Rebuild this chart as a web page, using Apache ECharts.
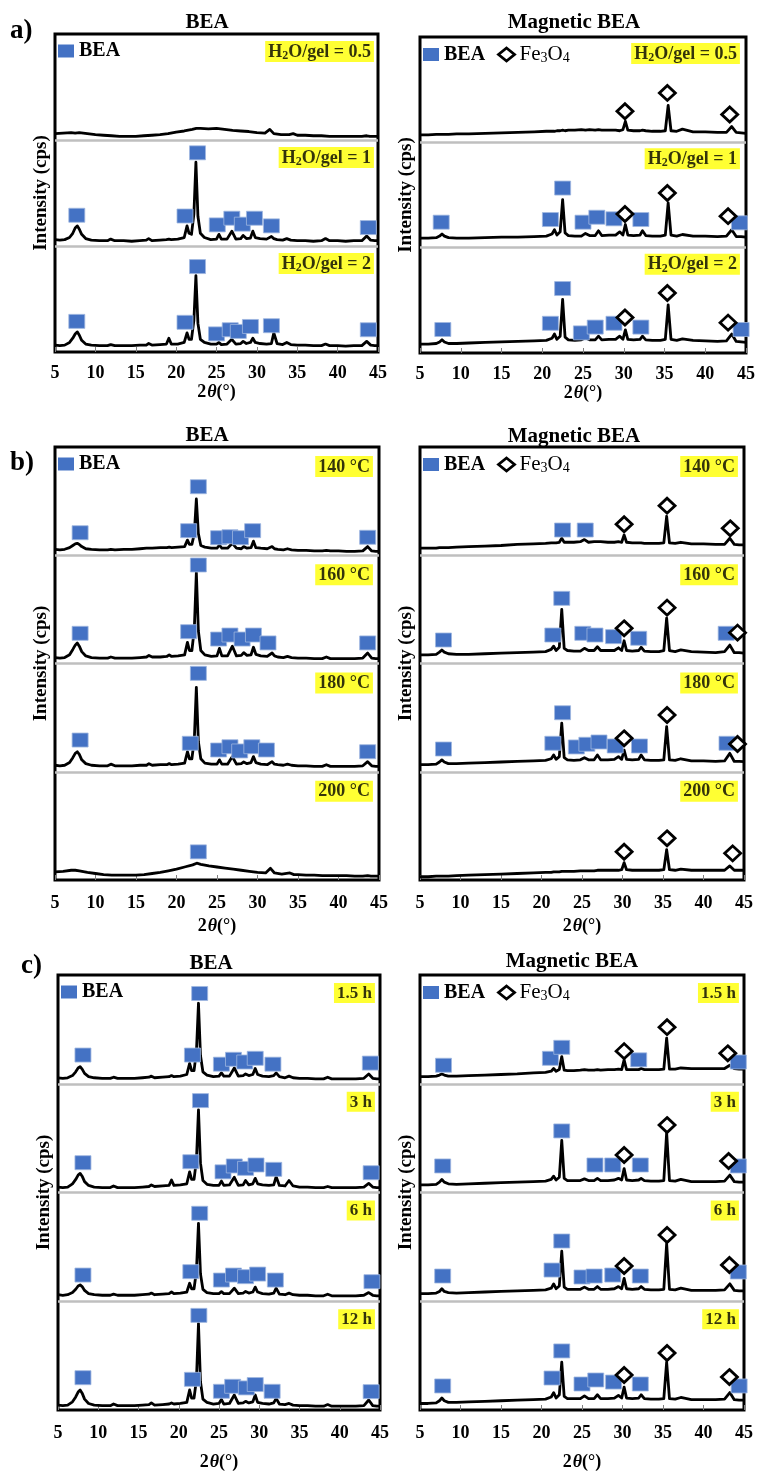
<!DOCTYPE html>
<html>
<head>
<meta charset="utf-8">
<title>XRD BEA / Magnetic BEA</title>
<script src="https://cdn.jsdelivr.net/npm/echarts@6/dist/echarts.min.js"></script>
<style>
html,body{margin:0;padding:0;background:#fff;}
#chart{width:758px;height:1473px;}
</style>
</head>
<body>
<div id="chart"></div>
<script>
// 2theta sampling used for the traces
const thetaBea = [5, 5.6, 6.2, 6.8, 7.2, 7.5, 7.75, 8.0, 8.3, 8.8,
  9.5, 10.5, 11.5, 11.9, 12.4, 13.5, 14.5, 15.5, 16.3, 16.6,
  17.0, 18.0, 18.8, 19.1, 19.4, 20.2, 21.0, 21.35, 21.6, 21.9,
  22.2, 22.45, 22.7, 23.0, 23.5, 24.3, 25.0, 25.3, 25.6, 26.3,
  26.9, 27.4, 28.0, 28.3, 28.7, 29.2, 29.5, 29.8, 30.4, 31.2,
  31.8, 32.1, 32.5, 33.2, 33.7, 34.2, 35.0, 36.0, 37.0, 38.0,
  38.5, 39.0, 40.0, 41.0, 42.0, 43.0, 43.6, 44.1, 44.6, 45.0];
const thetaAmo = [5, 6, 7, 7.5, 8, 9, 10, 11, 12, 13,
  14, 15, 16, 17, 18, 19, 20, 21, 22, 22.5,
  23, 24, 25, 26, 27, 28, 29, 30, 31, 31.6,
  32.1, 33, 34, 34.5, 35, 36, 37, 38, 39, 40,
  41, 42, 43, 43.6, 44, 45];
const thetaMag = [5, 6, 7, 7.4, 7.7, 8.0, 8.5, 9.5, 11, 13,
  15, 17, 19, 20.5, 21.2, 21.5, 21.8, 22.2, 22.5, 22.8,
  23.2, 24, 24.8, 25.3, 25.8, 26.5, 26.9, 27.3, 28.2, 29.0,
  29.5, 29.9, 30.2, 30.5, 31.2, 32.0, 32.3, 32.7, 33.5, 34.5,
  35.1, 35.45, 35.8, 36.5, 37.2, 38.5, 40, 41.5, 42.6, 43.25,
  43.8, 44.4, 45];

// intensities, % of each stacked slot
const aBea05 = [6, 6.5, 7, 6.5, 7, 6, 5, 4.5, 4, 3.5,
  3.5, 3.5, 4, 4.5, 5, 6, 7.5, 8.5, 10, 11,
  11, 10.5, 11, 10, 9, 8.5, 8, 7, 6.5, 10,
  6, 5, 5, 6, 4.5, 4.5, 4, 4, 3.5, 3.5,
  3.5, 3.5, 3.5, 4, 3.5, 3.5];
const aBea1 = [6, 5.5, 6, 8, 12, 17, 19, 16, 11, 7,
  5.5, 5, 5, 6.5, 5, 5, 4.5, 5, 5.5, 7,
  5, 5.5, 6, 6.5, 6, 6.5, 8, 19, 12, 11,
  30, 79, 28, 12, 8, 6, 6.5, 11, 6.5, 6.5,
  14, 6.5, 7, 10, 7, 7.5, 14, 8, 7, 6.5,
  9, 7, 6, 5.5, 7, 5.5, 5, 5, 4.5, 5,
  7, 5, 5, 4.5, 5, 5, 9.5, 5.5, 5, 5];
const aBea2 = [6.5, 6, 6.5, 9, 13, 17, 19, 16, 11, 7.5,
  6.5, 6, 6, 7, 6, 6, 6, 6.5, 6.5, 8,
  6.5, 7, 7.5, 13, 7.5, 7.5, 9, 18, 12, 12,
  30, 72, 27, 12, 9, 7.5, 7.5, 9, 7, 7.5,
  12, 7.5, 8, 10, 8, 9, 13, 9, 8, 7.5,
  8, 18, 8, 7, 9, 7, 6.5, 6.5, 6, 6,
  7.5, 6, 6, 5.5, 6, 6, 10, 6.5, 6, 6];
const aMag05 = [7, 7, 7.5, 7.5, 7.5, 7.5, 7.5, 8, 8, 8.5,
  9, 9.5, 10, 10.5, 10.5, 10.5, 11, 11, 11.5, 11,
  11.5, 11.5, 12, 11.5, 12, 11.5, 12, 11.5, 11.5, 11.5,
  11, 12, 20, 11.5, 11, 11, 11.5, 11, 10.5, 10.5,
  11, 35, 11, 10.5, 12.5, 10, 10, 9.5, 9.5, 15,
  9.5, 9, 8.5];
const aMag1 = [9, 9, 9.5, 11, 13, 11, 9.5, 9, 9, 9.5,
  10, 10, 10.5, 11, 13, 17, 12, 15, 45.6, 14,
  11.5, 11, 11, 13.5, 11.5, 11.5, 16, 11.5, 12, 12,
  15, 12, 22, 12, 11.5, 12, 16, 11.5, 11, 11,
  12, 42.5, 12, 11, 12.5, 11, 11, 10.5, 11, 17,
  10.5, 10.5, 10];
const aMag2 = [8.5, 8.5, 9, 10.5, 12.6, 10.5, 9, 9, 9.5, 10,
  10.5, 11, 11.5, 12, 14, 18, 13, 16, 51, 15,
  12.5, 12, 12.5, 14.5, 12.5, 12.5, 16, 12.5, 13, 13,
  16, 13, 22, 13, 12.5, 13, 16, 12.5, 12, 12,
  13, 45.6, 13, 12, 13.5, 12, 11.5, 11, 11.5, 18,
  11, 10.5, 10];

const bBea140 = [5.5, 5, 5.5, 7, 9, 10.5, 11, 10, 8, 6,
  5.5, 5, 5, 5.5, 5, 5.5, 5.5, 6, 6.5, 6.5,
  6.5, 7, 7, 7.5, 7, 7.5, 8, 14, 10, 10,
  20, 52, 20, 9, 7.5, 6.5, 6.5, 9.5, 6.5, 6.5,
  11, 6.5, 6, 8, 6.5, 7, 13, 7, 6.5, 6,
  8, 6, 5.5, 5, 6, 5, 4.5, 4.5, 4, 4,
  4.5, 4, 4, 3.5, 3.5, 4, 8, 4, 3.5, 3.5];
const bBea160 = [5.5, 5, 5.5, 8, 13, 17, 19, 16, 11, 7,
  5.5, 5, 5, 6, 5, 5, 5, 5.5, 6, 7.5,
  6, 6, 6.5, 8, 6.5, 7, 8, 19.5, 12, 12,
  32, 84, 30, 12, 8, 6.5, 7, 14, 7, 7,
  16, 7, 7.5, 10, 7.5, 8, 15, 8.5, 7, 6.5,
  9.7, 7, 6, 5.5, 6.5, 5.5, 5, 5, 4.5, 4.5,
  6, 4.5, 4.5, 4.5, 4.5, 5, 9.7, 5, 4.5, 4.5];
const bBea180 = [6, 5.5, 6, 8.5, 13, 17, 18.5, 16, 11, 7.5,
  6, 5.5, 5.5, 7, 5.5, 5.5, 5.5, 6, 6, 7.5,
  6, 6.5, 6.5, 7.5, 6.5, 7, 8, 18.5, 12, 12,
  30, 78, 28, 12, 8, 7, 7, 11, 7, 7,
  14, 7, 7.5, 9, 7.5, 8.5, 14, 8.5, 7, 6.5,
  9.3, 7, 6.5, 6, 7, 6, 5.5, 5.5, 5, 5,
  6.5, 5, 5, 5, 5, 5.5, 9.3, 5.5, 5, 5];
const bBea200 = [7.5, 8, 9, 9, 8.5, 7, 6, 5, 4.5, 4.5,
  4.5, 4.5, 5, 6, 7, 8.5, 10, 12, 14, 15.5,
  14.5, 13, 12, 11, 10, 9, 8, 7, 6.5, 10.8,
  6.5, 5.5, 6.5, 5, 5, 4.5, 4.5, 4, 4, 4,
  4, 3.5, 3.5, 4, 3.5, 3.5];
const bMag140 = [6.5, 6.5, 6.5, 7, 7, 7, 7, 7.5, 8, 8.5,
  9, 10, 10.5, 11, 11.5, 11.5, 11.5, 12, 15.7, 12,
  12, 12, 12.5, 14.5, 12, 12.5, 12.5, 12.5, 12, 12,
  12.5, 12, 18.7, 12, 11.5, 11.5, 11.5, 11, 11, 11,
  11.5, 36, 11.5, 11, 12, 10.5, 10.5, 10, 10, 15.7,
  10, 9.5, 9.5];
const bMag160 = [8, 8, 8.5, 10.5, 12.5, 10.5, 9, 8.5, 8.5, 9,
  9.5, 10, 10.5, 11, 13, 16, 12, 15, 50, 14,
  12, 11.5, 11.5, 14, 12, 12, 15.5, 12, 12, 12,
  14.5, 12, 21, 12, 11.5, 12, 15, 11.5, 11, 11,
  12, 42, 12, 11, 12.5, 11, 10.5, 10, 11, 17,
  10, 10, 9.5];
const bMag180 = [6.5, 6.5, 7, 9, 11, 9, 7.5, 7.5, 8, 8.5,
  9, 9.5, 10, 10.5, 12, 15.5, 11.5, 14, 45, 13,
  11, 10.5, 11, 13, 11, 11, 15.5, 11, 11, 11.5,
  14, 11.5, 20, 11.5, 11, 11.5, 15.5, 11, 10.5, 10.5,
  11, 41.6, 11, 10.5, 12, 10, 10, 9.5, 10, 17,
  9.5, 9.5, 9.3];
const bMag200 = [3, 3, 3.5, 3.5, 3.5, 3.5, 3.5, 4, 4.5, 5,
  5.5, 6, 6.5, 7, 7, 7.5, 7.5, 7.5, 8, 8,
  8, 8, 8.5, 8.5, 8.5, 8.5, 9, 9, 9, 9,
  9, 9.5, 16, 9.5, 9, 9, 9, 9, 9, 9,
  9.5, 28, 9.5, 9, 10, 9, 9, 9, 9, 13,
  9, 9, 9];

const cBea15 = [5.5, 5, 5.5, 7.5, 11, 14.5, 15.7, 13.5, 9.5, 6.5,
  5.5, 5, 5, 6, 5, 5, 5, 5.5, 6, 7,
  5.5, 6, 6.5, 7.5, 6.5, 7, 8.5, 18.8, 12, 12,
  30, 74, 26, 11, 8, 6.5, 7, 10, 7, 7,
  14.5, 7, 7.5, 9, 7.5, 8.5, 14, 8.5, 7, 6.5,
  7.5, 10, 6.5, 5.5, 7, 5.5, 5, 5, 4.5, 4.5,
  6, 4.5, 4.5, 4.5, 4.5, 5, 9, 5, 4.5, 4.5];
const cBea3 = [5, 4.5, 5, 8, 12, 16, 17.6, 15, 10, 6.5,
  5, 4.5, 4.5, 6, 4.5, 4.5, 4.5, 5, 5.5, 7,
  5.5, 6, 6.5, 11.5, 6.5, 7, 8, 19, 12, 12,
  30, 76, 27, 11, 7.5, 6.5, 6.5, 10.5, 6.5, 7,
  14, 6.5, 7, 11, 7, 8, 13, 8, 7, 6.5,
  7, 14.6, 6.5, 6, 11, 6, 5, 5, 4.5, 4.5,
  5.5, 4.5, 4.5, 4.5, 4.5, 5, 8.4, 5, 4.5, 4.5];
const cBea6 = [6, 5.5, 6, 8, 11, 14, 15, 13.5, 10, 7,
  6, 5.5, 5.5, 6.5, 5.5, 5.5, 5.5, 6, 6.5, 7.5,
  6, 6.5, 7, 8.5, 7, 7.5, 8.5, 16.5, 11.5, 11.5,
  28, 71.6, 25, 11, 8, 7, 7, 8.8, 7, 7,
  12, 7, 7.5, 9, 7.5, 8.5, 13, 8.5, 7, 6.5,
  7.5, 12, 6.5, 6, 7.5, 6, 5.5, 5.5, 5, 5,
  6.5, 5, 5, 5, 5, 5.5, 8, 5.5, 5, 5];
const cBea12 = [4.5, 4, 4.5, 7.5, 12, 16.5, 18.4, 15.5, 10, 6,
  4.5, 4, 4, 5.5, 4, 4, 4, 4.5, 5, 6.5,
  4.5, 5, 5.5, 6.5, 5.5, 6, 7, 18.4, 11, 11,
  28, 79.6, 26, 10, 7, 5.5, 6, 9.8, 5.5, 6,
  13.8, 6, 6.5, 8, 6.5, 7.5, 13.8, 7, 6, 5.5,
  6.5, 10.7, 5.5, 5, 6, 4.5, 4, 4, 3.5, 3.5,
  5, 3.5, 3.5, 3.5, 3.5, 4, 9.2, 4, 3.5, 3.5];
const cMag15 = [6.5, 6.5, 7, 8, 9, 8, 7, 7, 7.5, 8,
  8.5, 9, 10, 10.5, 11.5, 14, 11.5, 13, 25, 12.5,
  12, 12, 12.5, 13, 12.5, 12.5, 13, 12.5, 13, 13,
  13.5, 13, 22, 13, 13, 13, 14, 13, 13, 13,
  13.5, 42, 13.5, 13.5, 14.5, 14, 14, 14, 14, 17,
  14, 13.5, 13.5];
const cMag3 = [7, 7, 7.5, 9.5, 12, 9.5, 8, 7.5, 8, 8.5,
  9, 9.5, 10, 10.5, 12, 15, 11.5, 14, 48, 13,
  11, 11, 11, 12.5, 11, 11, 13, 11, 11, 11.5,
  13, 11.5, 22, 11.5, 11, 11.5, 13, 11, 10.5, 10.5,
  11, 55, 11, 10.5, 12, 10, 10, 10, 10.5, 16,
  10, 9.5, 9.5];
const cMag6 = [7, 7, 7.5, 9, 11.5, 9, 8, 7.5, 8, 8.5,
  9, 9.5, 10, 10.5, 12, 16, 11.5, 14, 46, 13,
  11, 11, 11, 13, 11, 11, 13.5, 11, 11, 11.5,
  13.5, 11.5, 21, 11.5, 11, 11.5, 13.5, 11, 10.5, 10.5,
  11, 53, 11, 10.5, 12, 10, 10, 10, 10.5, 16,
  10, 9.5, 9.5];
const cMag12 = [6, 6, 6.5, 8.5, 11, 8.5, 7, 7, 7.5, 8,
  8.5, 9, 9.5, 10, 12, 16, 11, 14, 44, 12.5,
  10.5, 10.5, 10.5, 13, 10.5, 10.5, 14, 10.5, 10.5, 11,
  13.5, 11, 21, 11, 10.5, 11, 14, 10.5, 10, 10,
  10.5, 44, 10.5, 10, 11.5, 9.5, 9.5, 9.5, 10, 16,
  9.5, 9, 9];

// phase markers [2theta, height %] : squares = BEA, diamonds = Fe3O4
const aBea1Sq = [[7.7, 29], [21.1, 28.3], [22.65, 87.9], [25.1, 19.9], [26.9, 26.2], [28.2, 20.6], [29.7, 26.2], [31.8, 19], [43.8, 17.4]];
const aBea2Sq = [[7.7, 28.9], [21.1, 28], [22.65, 80.6], [25.0, 17.1], [26.7, 21], [27.7, 19.4], [29.2, 24.1], [31.8, 24.8], [43.8, 21]];
const aMag05Dm = [[30.15, 29.5], [35.35, 46.9], [43.0, 26.4]];
const aMag1Sq = [[7.6, 24.2], [21.0, 26.7], [22.5, 56.6], [25.0, 24.2], [26.7, 28.9], [28.8, 27.4], [32.1, 26.7], [44.2, 23.6]];
const aMag1Dm = [[30.15, 32], [35.35, 51.9], [42.8, 29.9]];
const aMag2Sq = [[7.8, 22.3], [21.0, 28.2], [22.5, 61.2], [24.8, 19.1], [26.5, 24.6], [28.8, 28.2], [32.1, 24.6], [44.4, 22.3]];
const aMag2Dm = [[30.15, 33.7], [35.35, 57], [42.8, 28.8]];

const bBea140Sq = [[8.1, 20.8], [21.5, 22.7], [22.7, 63.3], [25.2, 16.2], [26.6, 17.1], [27.9, 16.2], [29.4, 22.7], [43.6, 16.6]];
const bBea160Sq = [[8.1, 27.9], [21.5, 29.4], [22.7, 91], [25.2, 22.6], [26.6, 26.3], [28.1, 22.6], [29.5, 26.3], [31.3, 19], [43.6, 19]];
const bBea180Sq = [[8.1, 29.3], [21.7, 26.3], [22.7, 90.9], [25.2, 20.1], [26.6, 23.1], [27.8, 19.2], [29.3, 23.1], [31.1, 20.1], [43.6, 18.5]];
const bBea200Sq = [[22.7, 26]];
const bMag140Sq = [[22.6, 23.3], [25.4, 23.3]];
const bMag140Dm = [[30.2, 28.6], [35.5, 45.8], [43.3, 24.9]];
const bMag160Sq = [[7.9, 21.7], [21.4, 26.3], [22.5, 60.2], [25.1, 27.9], [26.6, 26.3], [28.9, 24.8], [32.0, 23.3], [42.8, 27.9]];
const bMag160Dm = [[30.2, 32.5], [35.5, 51.6], [44.2, 28.5]];
const bMag180Sq = [[7.9, 21], [21.4, 26.3], [22.6, 54.5], [24.3, 22.9], [25.6, 25.4], [27.1, 27.5], [29.1, 23.8], [32.1, 23.8], [42.9, 26.3]];
const bMag180Dm = [[30.2, 30.9], [35.5, 52.4], [44.2, 25.6]];
const bMag200Dm = [[30.2, 26.1], [35.5, 38.5], [43.6, 24.6]];

const cBea15Sq = [[8.1, 26.4], [21.7, 26.4], [22.6, 83], [25.3, 18], [26.8, 22.5], [28.2, 20], [29.5, 23.4], [31.7, 18], [43.8, 19]];
const cBea3Sq = [[8.1, 27.4], [21.5, 28.3], [22.7, 84.5], [25.5, 19], [26.9, 24.4], [28.3, 22.2], [29.6, 25.3], [31.8, 21.3], [43.9, 18.2]];
const cBea6Sq = [[8.1, 24.1], [21.5, 27.2], [22.6, 80.9], [25.3, 19.5], [26.8, 24.1], [28.3, 22.6], [29.8, 25], [32.0, 19.5], [44.0, 18]];
const cBea12Sq = [[8.1, 29.7], [21.7, 28.2], [22.5, 87], [25.3, 17.2], [26.7, 21.8], [28.4, 20.3], [29.5, 23.4], [31.6, 17.2], [43.9, 16.9]];
const cMag15Sq = [[7.9, 17], [21.1, 23.4], [22.5, 33.5], [32.0, 22], [44.3, 20]];
const cMag15Dm = [[30.2, 30], [35.5, 52], [43.0, 28]];
const cMag3Sq = [[7.8, 24.4], [22.5, 56.6], [26.6, 25.3], [28.8, 25.3], [32.2, 25.3], [44.3, 24.4]];
const cMag3Dm = [[30.2, 34.5], [35.5, 62], [43.1, 29]];
const cMag6Sq = [[7.8, 23.2], [21.3, 28.7], [22.5, 55.4], [25.0, 22.3], [26.5, 23.2], [28.8, 24.1], [32.2, 23.2], [44.3, 26.9]];
const cMag6Dm = [[30.2, 32.4], [35.5, 60.9], [43.2, 33.3]];
const cMag12Sq = [[7.8, 22.1], [21.3, 29.4], [22.5, 54.3], [25.0, 23.9], [26.7, 27.6], [28.9, 25.7], [32.2, 23.9], [44.4, 22.1]];
const cMag12Dm = [[30.2, 32.2], [35.5, 52.4], [43.2, 30.3]];

// slot labels
const gelLabels = ['H2O/gel = 0.5', 'H2O/gel = 1', 'H2O/gel = 2'];
const tempLabels = ['140 °C', '160 °C', '180 °C', '200 °C'];
const timeLabels = ['1.5 h', '3 h', '6 h', '12 h'];
const xTicks = [5, 45, 5]; // min, max, step

const FONT = '"Liberation Serif","Times New Roman",serif';

// digits right after a letter become subscripts (H2O, Fe3O4)
function chem(s, key) {
  let out = '', buf = '';
  for (let i = 0; i < s.length; i++) {
    const c = s[i];
    if (/\d/.test(c) && i > 0 && /[A-Za-z]/.test(s[i - 1])) {
      if (buf) out += '{' + key + '|' + buf + '}';
      buf = '';
      out += '{s|' + c + '}';
    } else buf += c;
  }
  if (buf) out += '{' + key + '|' + buf + '}';
  return out;
}

const panels = [
  {grid: {left: 55, top: 34, width: 323, height: 318}, title: 'BEA', tx: 207, ty: 23, letter: 'a)', lx: 10, ly: 31,
   labels: gelLabels, fs: 18, inset: [-4, 7], margin: 12, gap: 27, mag: false,
   traces: [{t: thetaAmo, y: aBea05}, {t: thetaBea, y: aBea1, sq: aBea1Sq}, {t: thetaBea, y: aBea2, sq: aBea2Sq}]},
  {grid: {left: 420, top: 37, width: 326, height: 316}, title: 'Magnetic BEA', tx: 574, ty: 23,
   labels: gelLabels, fs: 18, inset: [-6, 6], margin: 12, gap: 27, mag: true,
   traces: [{t: thetaMag, y: aMag05, dm: aMag05Dm}, {t: thetaMag, y: aMag1, sq: aMag1Sq, dm: aMag1Dm}, {t: thetaMag, y: aMag2, sq: aMag2Sq, dm: aMag2Dm}]},
  {grid: {left: 55, top: 447, width: 324, height: 433}, title: 'BEA', tx: 207, ty: 436, letter: 'b)', lx: 10, ly: 463,
   labels: tempLabels, fs: 18, inset: [-6, 9], margin: 14, gap: 37, mag: false,
   traces: [{t: thetaBea, y: bBea140, sq: bBea140Sq}, {t: thetaBea, y: bBea160, sq: bBea160Sq}, {t: thetaBea, y: bBea180, sq: bBea180Sq}, {t: thetaAmo, y: bBea200, sq: bBea200Sq}]},
  {grid: {left: 420, top: 447, width: 324, height: 433}, title: 'Magnetic BEA', tx: 574, ty: 437,
   labels: tempLabels, fs: 18, inset: [-6, 9], margin: 14, gap: 37, mag: true,
   traces: [{t: thetaMag, y: bMag140, sq: bMag140Sq, dm: bMag140Dm}, {t: thetaMag, y: bMag160, sq: bMag160Sq, dm: bMag160Dm}, {t: thetaMag, y: bMag180, sq: bMag180Sq, dm: bMag180Dm}, {t: thetaMag, y: bMag200, dm: bMag200Dm}]},
  {grid: {left: 58, top: 975, width: 322, height: 435}, title: 'BEA', tx: 211, ty: 964, letter: 'c)', lx: 21, ly: 966,
   labels: timeLabels, fs: 17, inset: [-5, 8], margin: 14, gap: 43, mag: false,
   traces: [{t: thetaBea, y: cBea15, sq: cBea15Sq}, {t: thetaBea, y: cBea3, sq: cBea3Sq}, {t: thetaBea, y: cBea6, sq: cBea6Sq}, {t: thetaBea, y: cBea12, sq: cBea12Sq}]},
  {grid: {left: 420, top: 975, width: 324, height: 435}, title: 'Magnetic BEA', tx: 572, ty: 962,
   labels: timeLabels, fs: 17, inset: [-5, 8], margin: 14, gap: 43, mag: true,
   traces: [{t: thetaMag, y: cMag15, sq: cMag15Sq, dm: cMag15Dm}, {t: thetaMag, y: cMag3, sq: cMag3Sq, dm: cMag3Dm}, {t: thetaMag, y: cMag6, sq: cMag6Sq, dm: cMag6Dm}, {t: thetaMag, y: cMag12, sq: cMag12Sq, dm: cMag12Dm}]}
];

const option = {
  animation: false,
  backgroundColor: '#fff',
  grid: [], xAxis: [], yAxis: [], series: [], legend: [], graphic: []
};

panels.forEach(function (p, k) {
  const n = p.traces.length;
  option.grid.push(Object.assign({show: true, borderColor: '#000', borderWidth: 3, backgroundColor: 'rgba(0,0,0,0)'}, p.grid));
  option.xAxis.push({
    gridIndex: k, type: 'value', min: xTicks[0], max: xTicks[1], interval: xTicks[2],
    axisLine: {show: false},
    axisTick: {show: true, inside: true, length: 5, lineStyle: {color: '#808080', width: 1}},
    axisLabel: {margin: p.margin, fontFamily: FONT, fontSize: 18, fontWeight: 'bold', color: '#000'},
    splitLine: {show: false},
    name: '{n|2}{i|θ}{n|(°)}', nameLocation: 'middle', nameGap: p.gap,
    nameTextStyle: {rich: {
      n: {fontFamily: FONT, fontSize: 18, fontWeight: 'bold', color: '#000'},
      i: {fontFamily: FONT, fontSize: 18, fontWeight: 'bold', fontStyle: 'italic', color: '#000', padding: [0, 0, 0, 1]}
    }}
  });
  option.yAxis.push({
    gridIndex: k, type: 'value', min: 0, max: n * 100,
    axisLine: {show: false}, axisTick: {show: false}, axisLabel: {show: false}, splitLine: {show: false},
    name: 'Intensity (cps)', nameLocation: 'middle', nameGap: 4, nameRotate: 90,
    nameTextStyle: {fontFamily: FONT, fontSize: 19, fontWeight: 'bold', color: '#000'}
  });

  // gray separators between stacked slots
  const seps = [];
  for (let i = 1; i < n; i++) seps.push({yAxis: i * 100});
  option.series.push({
    type: 'line', xAxisIndex: k, yAxisIndex: k, data: [], z: 1, silent: true,
    markLine: {silent: true, symbol: ['none', 'none'], label: {show: false},
      lineStyle: {color: '#bfbfbf', width: 2.5, type: 'solid'}, data: seps}
  });

  const sq = [], dm = [], lab = [];
  p.traces.forEach(function (tr, i) {
    const off = (n - 1 - i) * 100;
    option.series.push({
      type: 'line', xAxisIndex: k, yAxisIndex: k, z: 3, silent: true,
      symbol: 'none', smooth: false,
      lineStyle: {color: '#000', width: 2.8, join: 'round'},
      data: tr.t.map(function (x, j) { return [x, tr.y[j] + off]; })
    });
    (tr.sq || []).forEach(function (d) { sq.push([d[0], d[1] + off]); });
    (tr.dm || []).forEach(function (d) { dm.push([d[0], d[1] + off]); });
    lab.push({value: [44.99, off + 99.99], name: p.labels[i]});
  });

  option.series.push({
    name: 'BEA', type: 'scatter', xAxisIndex: k, yAxisIndex: k, z: 5, silent: true,
    symbol: 'rect', symbolSize: [16, 14],
    itemStyle: {color: '#4472c4', borderColor: '#9fb6e0', borderWidth: 0.8, opacity: 1},
    data: sq
  });
  if (p.mag) {
    option.series.push({
      name: 'Fe3O4', type: 'scatter', xAxisIndex: k, yAxisIndex: k, z: 6, silent: true,
      symbol: 'diamond', symbolSize: [16, 15],
      itemStyle: {color: '#fff', borderColor: '#000', borderWidth: 2.8, opacity: 1},
      data: dm
    });
  }
  option.series.push({
    type: 'scatter', xAxisIndex: k, yAxisIndex: k, z: 7, silent: true,
    symbolSize: 0, itemStyle: {color: 'rgba(0,0,0,0)'},
    label: {
      show: true, position: p.inset, align: 'right', verticalAlign: 'top',
      backgroundColor: '#ffff00', padding: [1, 3, 0, 3],
      formatter: function (d) { return chem(d.name, 'b'); },
      rich: {
        b: {fontFamily: FONT, fontSize: p.fs, fontWeight: 'bold', color: '#000', lineHeight: p.fs + 2},
        s: {fontFamily: FONT, fontSize: 12, fontWeight: 'bold', color: '#000', lineHeight: 10, verticalAlign: 'bottom'}
      }
    },
    data: lab
  });

  // legend inside first slot
  const legData = [{name: 'BEA', icon: 'rect', itemStyle: {color: '#4472c4', borderWidth: 0}}];
  if (p.mag) legData.push({name: 'Fe3O4', icon: 'diamond', itemStyle: {color: '#fff', borderColor: '#000', borderWidth: 2.8}});
  option.legend.push({
    left: p.grid.left + 3, top: p.grid.top + 7, padding: 0, itemGap: 12,
    itemWidth: 16, itemHeight: 13, selectedMode: false, data: legData,
    formatter: function (name) { return chem(name, name === 'BEA' ? 'b' : 'n'); },
    textStyle: {
      color: '#000',
      rich: {
        b: {fontFamily: FONT, fontSize: 20, fontWeight: 'bold', color: '#000', lineHeight: 22},
        n: {fontFamily: FONT, fontSize: 21, color: '#000', lineHeight: 22},
        s: {fontFamily: FONT, fontSize: 14, color: '#000', lineHeight: 8, verticalAlign: 'bottom'}
      }
    }
  });

  option.graphic.push({type: 'text', x: p.tx, y: p.ty, silent: true,
    style: {text: p.title, fontFamily: FONT, fontSize: 21, fontWeight: 'bold', fill: '#000', align: 'center', verticalAlign: 'middle'}});
  if (p.letter) {
    option.graphic.push({type: 'text', x: p.lx, y: p.ly, silent: true,
      style: {text: p.letter, fontFamily: FONT, fontSize: 27, fontWeight: 'bold', fill: '#000', align: 'left', verticalAlign: 'middle'}});
  }
});

const chart = echarts.init(document.getElementById('chart'), null, {renderer: 'canvas'});
chart.setOption(option);
</script>
</body>
</html>
